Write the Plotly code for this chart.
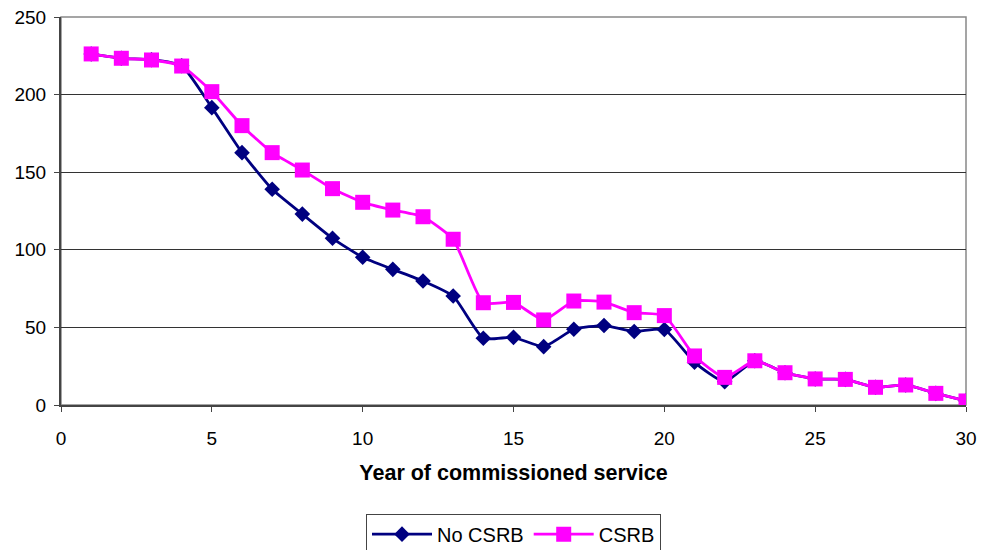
import plotly.graph_objects as go

years = list(range(1, 31))
no_csrb = [226.2, 223.4, 222.5, 218.6, 191.6, 162.6, 139, 123, 107.4, 95.2, 87.4, 79.9, 70.2, 43, 43.6, 37.6,
           48.8, 51.2, 47.4, 48.6, 27.5, 15, 28.5, 20.8, 16.8, 16.5, 11.4, 12.9, 7.5, 2.6]
csrb = [226.2, 223.4, 222.3, 218.4, 201.9, 180, 162.6, 151.4, 139.4, 130.6, 125.6, 121.3, 106.8, 65.9, 66.1, 54.8,
        67, 66.3, 59.5, 57.6, 31.6, 17.8, 28.5, 20.8, 16.8, 16.5, 11.4, 12.9, 7.5, 2.6]
x_ticks = [0, 5, 10, 15, 20, 25, 30]
y_ticks = [0, 50, 100, 150, 200, 250]

fig = go.Figure()
fig.add_trace(go.Scatter(
    x=years, y=no_csrb, name="No CSRB", mode="lines+markers",
    line=dict(color="#000080", width=2.8, shape="spline", smoothing=0.5),
    marker=dict(symbol="diamond", size=12, color="#000080"),
))
fig.add_trace(go.Scatter(
    x=years, y=csrb, name="CSRB", mode="lines+markers",
    line=dict(color="#FF00FF", width=2.8, shape="spline", smoothing=0.5),
    marker=dict(symbol="square", size=15, color="#FF00FF"),
))

fig.update_layout(
    width=982, height=550,
    margin=dict(l=61, r=16, t=17, b=145, autoexpand=False),
    paper_bgcolor="white", plot_bgcolor="white",
    font=dict(family="Arial, Liberation Sans, sans-serif", size=19, color="black"),
    showlegend=True,
    legend=dict(orientation="h", x=0.5, xanchor="center", y=-0.28, yanchor="top",
                bordercolor="#444444", borderwidth=1, font=dict(size=20),
                itemwidth=60, tracegroupgap=0),
)
fig.update_xaxes(
    range=[0, 30], tickvals=x_ticks, ticktext=[str(v) for v in x_ticks],
    showgrid=False, showline=True, linecolor="#444444", linewidth=2, mirror=False,
    ticks="outside", ticklen=5, tickcolor="#444444", zeroline=False, automargin=False,
    tickfont=dict(size=19), ticklabelstandoff=10,
    title=dict(text="<b>Year of commissioned service</b>", font=dict(size=21.5), standoff=17),
)
fig.update_yaxes(
    range=[0, 250], tickvals=y_ticks, ticktext=[str(v) for v in y_ticks],
    showgrid=True, gridcolor="#333333", gridwidth=1,
    showline=True, linecolor="#444444", linewidth=2, automargin=False,
    ticks="outside", ticklen=5, tickcolor="#444444", zeroline=False,
    tickfont=dict(size=19), ticklabelstandoff=4,
)
# plot area border on top and right
fig.add_shape(type="rect", xref="paper", yref="paper", x0=0, y0=0, x1=1, y1=1,
              line=dict(color="#888888", width=1.5), layer="below")

fig.write_html("out.html", config={"displayModeBar": False},
               post_script="document.body.style.margin='0';document.body.style.overflow='hidden';")
